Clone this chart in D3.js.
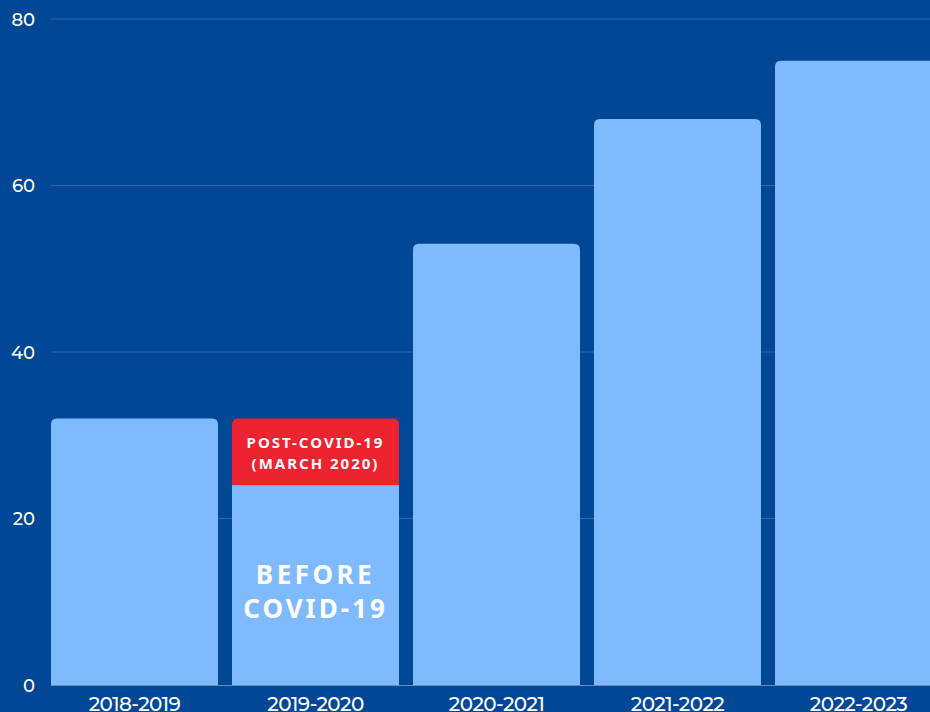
<!DOCTYPE html>
<html><head><meta charset="utf-8">
<script src="https://cdn.jsdelivr.net/npm/d3@7"></script>
<style>html,body{margin:0;padding:0;background:#004896;overflow:hidden}</style>
</head><body>
<svg id="c" width="930" height="712"></svg>
<script>
const categories = ["2018-2019","2019-2020","2020-2021","2021-2022","2022-2023"];
const values = [32, 32, 53, 68, 75];
const beforeValues = [null, 24, null, null, null];
const yTicks = [0, 20, 40, 60, 80];

const svg = d3.select("#c");
const W = 930, H = 712;
svg.append("rect").attr("width", W).attr("height", H).attr("fill", "#004896");

const y = d3.scaleLinear().domain([0, 80]).range([685, 19]);
const x = d3.scaleBand().domain(categories).range([44, 949]).paddingInner(14/181).paddingOuter(7/181);

// gridlines
svg.append("g").selectAll("line").data(yTicks.filter(d => d > 0)).join("line")
  .attr("x1", 51).attr("x2", W).attr("y1", d => y(d)).attr("y2", d => y(d))
  .attr("stroke", "#2d66ad").attr("stroke-width", 1);

// y axis
const yAxis = d3.axisLeft(y).tickValues(yTicks).tickSize(0).tickPadding(0);
const ya = svg.append("g").attr("transform", "translate(35,0)").call(yAxis);
ya.select(".domain").remove();
ya.selectAll("text").attr("fill", "#ffffff").style("font-family", "Montserrat, 'Open Sans', sans-serif")
  .style("font-size", "18px").style("font-weight", "500").attr("dy", "0.35em");

function topRounded(x0, y0, w, h, r) {
  r = Math.min(r, h, w / 2);
  return `M${x0},${y0 + h}V${y0 + r}Q${x0},${y0} ${x0 + r},${y0}H${x0 + w - r}Q${x0 + w},${y0} ${x0 + w},${y0 + r}V${y0 + h}Z`;
}

const bw = x.bandwidth();
// bars
svg.append("g").selectAll("path").data(categories).join("path")
  .attr("d", (c, i) => {
    const top = y(values[i]);
    return topRounded(x(c), top, bw, y(0) - top, 6);
  })
  .attr("fill", (c, i) => beforeValues[i] != null ? "#ee2331" : "#7fbaff");

// before segment
svg.append("g").selectAll("rect").data(categories.filter((c, i) => beforeValues[i] != null)).join("rect")
  .attr("x", c => x(c)).attr("width", bw)
  .attr("y", c => y(beforeValues[categories.indexOf(c)]))
  .attr("height", c => y(0) - y(beforeValues[categories.indexOf(c)]))
  .attr("fill", "#7fbaff");

// baseline
svg.append("line").attr("x1", 51).attr("x2", W).attr("y1", y(0) + 0.5).attr("y2", y(0) + 0.5)
  .attr("stroke", "#5f8fc8").attr("stroke-width", 1);

// x labels
svg.append("g").selectAll("text").data(categories).join("text")
  .attr("x", c => x(c) + bw / 2).attr("y", 711)
  .attr("text-anchor", "middle").attr("fill", "#ffffff")
  .style("font-family", "Montserrat, 'Open Sans', sans-serif").style("font-size", "20px")
  .style("font-weight", "500").style("letter-spacing", "-0.6px")
  .text(c => c);

// annotations
const c2 = categories[1];
const cx = x(c2) + bw / 2;
const redMid = (y(values[1]) + y(beforeValues[1])) / 2;
const ann = svg.append("g").attr("fill", "#ffffff").attr("text-anchor", "middle")
  .style("font-family", "'Noto Sans', Lato, sans-serif").style("font-weight", "700");
ann.append("text").attr("x", cx).attr("y", redMid - 4).style("font-size", "15px").style("letter-spacing", "2px").text("POST-COVID-19");
ann.append("text").attr("x", cx).attr("y", redMid + 17).style("font-size", "15px").style("letter-spacing", "2px").text("(MARCH 2020)");
ann.append("text").attr("x", cx).attr("y", 584).style("font-size", "26px").style("letter-spacing", "3.5px").text("BEFORE");
ann.append("text").attr("x", cx).attr("y", 618).style("font-size", "26px").style("letter-spacing", "3px").text("COVID-19");
</script>
</body></html>
